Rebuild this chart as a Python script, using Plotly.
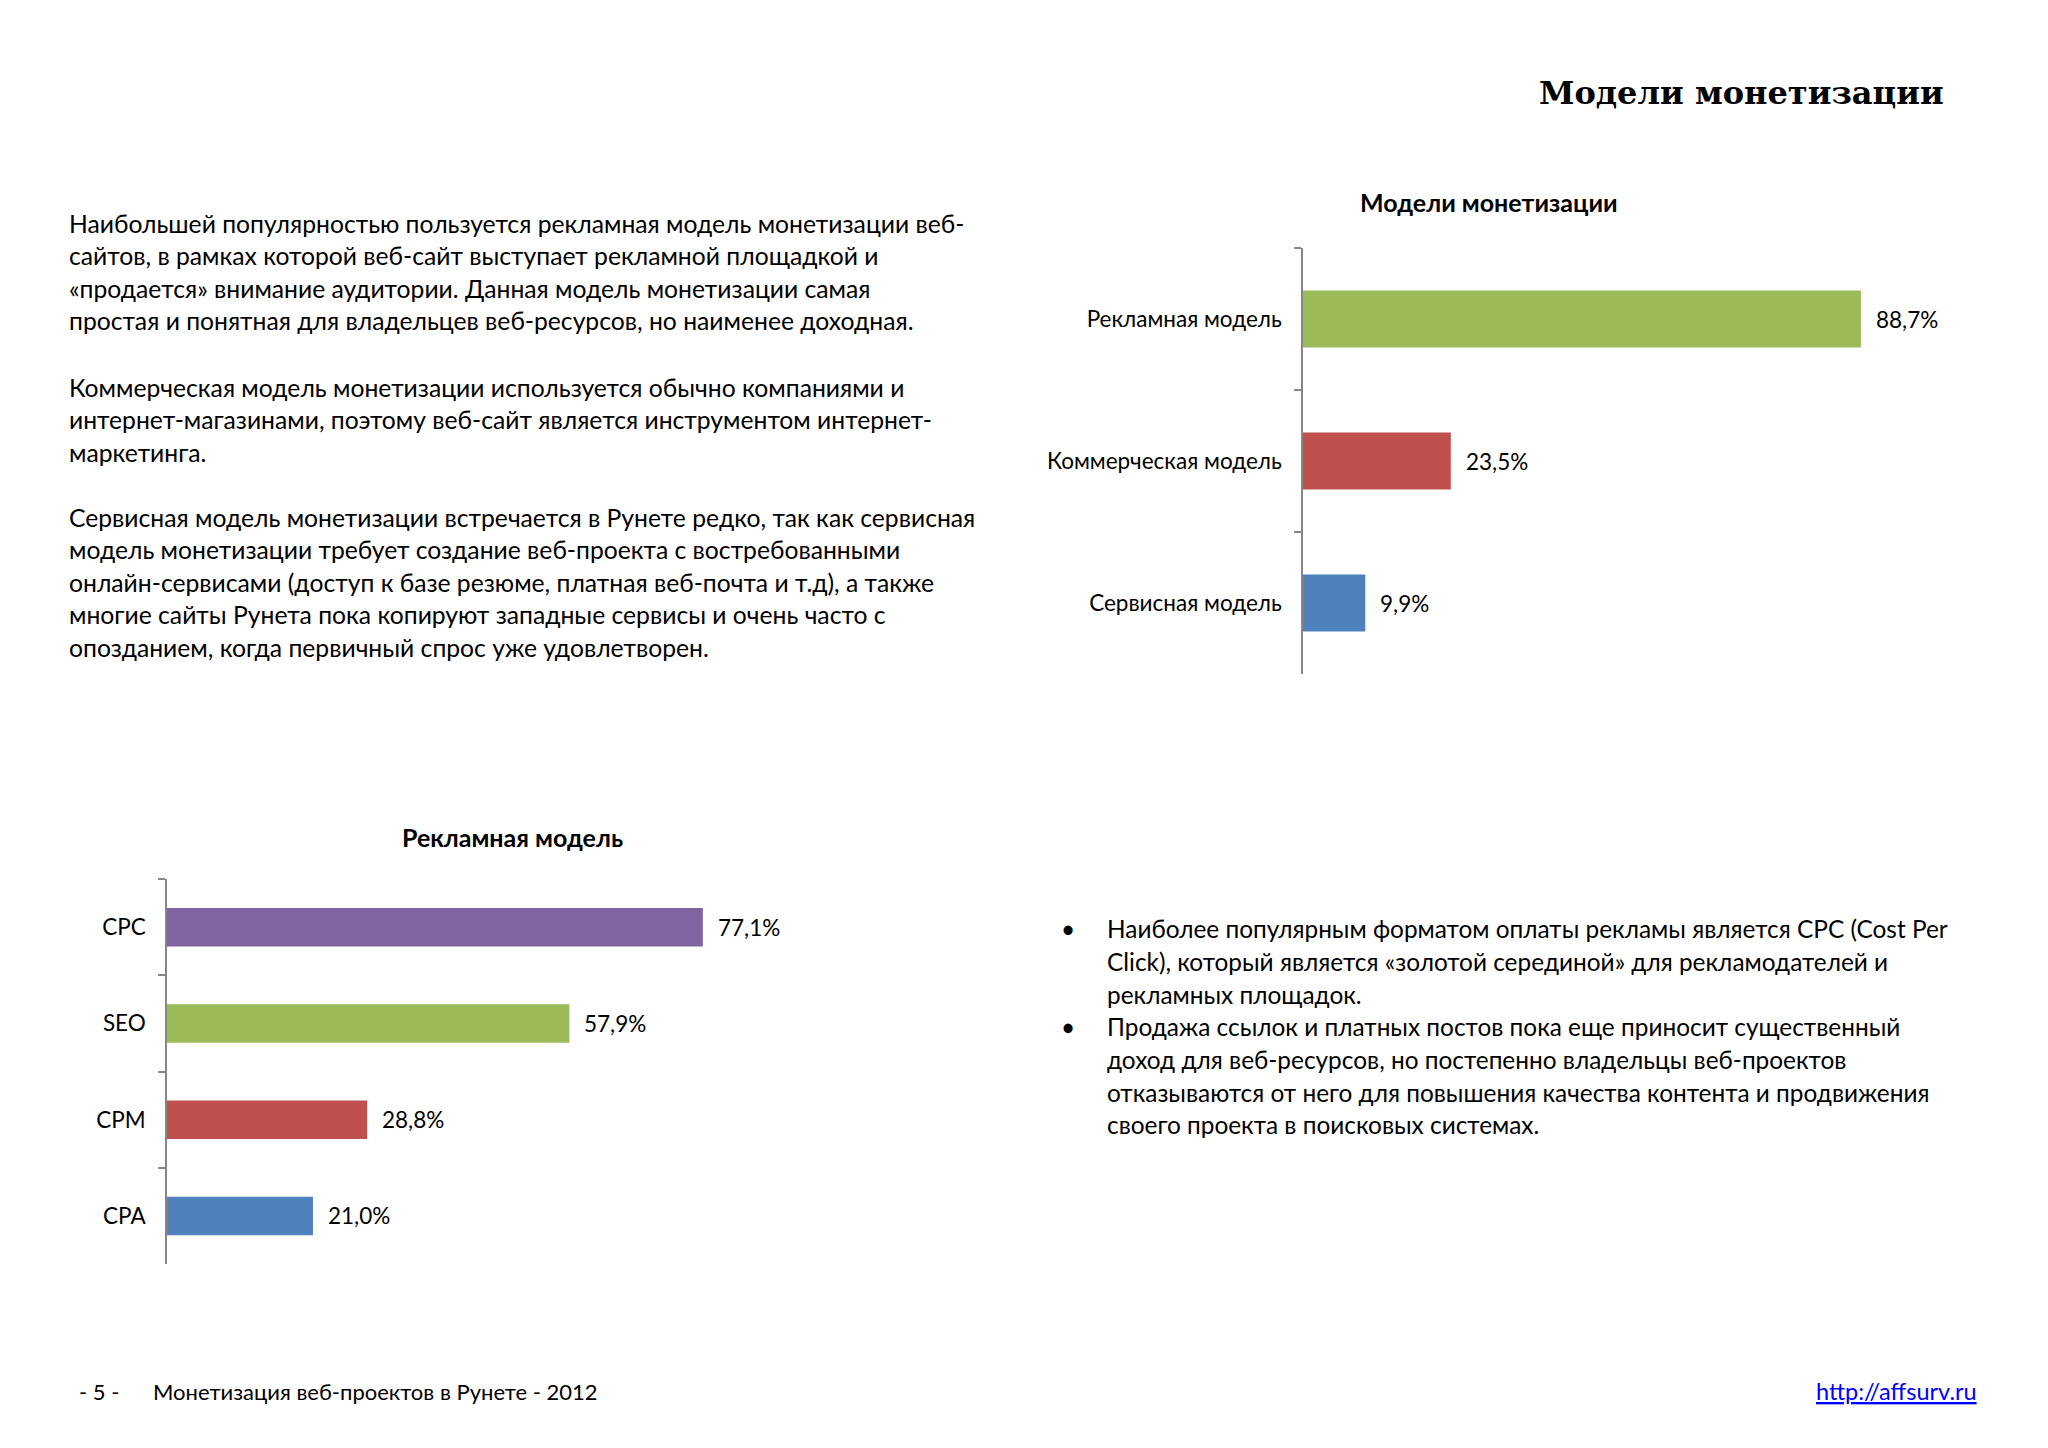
import plotly.graph_objects as go

# ---------------- data ----------------
top_categories = ["Рекламная модель", "Коммерческая модель", "Сервисная модель"]
top_values = [88.7, 23.5, 9.9]
top_colors = ["#9BBB59", "#C0504D", "#4F81BD"]

ad_categories = ["CPC", "SEO", "CPM", "CPA"]
ad_values = [77.1, 57.9, 28.8, 21.0]
ad_colors = ["#8064A2", "#9BBB59", "#C0504D", "#4F81BD"]

page_title = "Модели монетизации"
top_chart_title = "Модели монетизации"
ad_chart_title = "Рекламная модель"

body_paragraphs = [
    ["Наибольшей популярностью пользуется рекламная модель монетизации веб-",
     "сайтов, в рамках которой веб-сайт выступает рекламной площадкой и",
     "«продается» внимание аудитории. Данная модель монетизации самая",
     "простая и понятная для владельцев веб-ресурсов, но наименее доходная."],
    ["Коммерческая модель монетизации используется обычно компаниями и",
     "интернет-магазинами, поэтому веб-сайт является инструментом интернет-",
     "маркетинга."],
    ["Сервисная модель монетизации встречается в Рунете редко, так как сервисная",
     "модель монетизации требует создание веб-проекта с востребованными",
     "онлайн-сервисами (доступ к базе резюме, платная веб-почта и т.д), а также",
     "многие сайты Рунета пока копируют западные сервисы и очень часто с",
     "опозданием, когда первичный спрос уже удовлетворен."],
]

bullets = [
    ["Наиболее популярным форматом оплаты рекламы является CPC (Cost Per",
     "Click), который является «золотой серединой» для рекламодателей и",
     "рекламных площадок."],
    ["Продажа ссылок и платных постов пока еще приносит существенный",
     "доход для веб-ресурсов, но постепенно владельцы веб-проектов",
     "отказываются от него для повышения качества контента и продвижения",
     "своего проекта в поисковых системах."],
]

footer_page = "- 5 -"
footer_text = "Монетизация веб-проектов в Рунете - 2012"
footer_link = "http://affsurv.ru"

# ---------------- layout helpers ----------------
W, H = 2048, 1448
SANS = "Lato, 'Open Sans', sans-serif"
SERIF = "'DejaVu Serif', 'Liberation Serif', serif"
BODY = 24.7
BULLET = 24.4


def px(x):
    return x / W


def py(y):
    return 1 - y / H


def fmt(v):
    return f"{v:.1f}".replace(".", ",") + "%"


fig = go.Figure()
fig.add_trace(go.Bar(y=top_categories, x=top_values, orientation="h",
                     marker=dict(color=top_colors, line=dict(width=0)),
                     xaxis="x", yaxis="y", hoverinfo="skip"))
fig.add_trace(go.Bar(y=ad_categories, x=ad_values, orientation="h",
                     marker=dict(color=ad_colors, line=dict(width=0)),
                     xaxis="x2", yaxis="y2", hoverinfo="skip"))

axis_common_x = dict(range=[0, 100], showgrid=False, zeroline=False,
                     showticklabels=False, showline=False, ticks="")
axis_common_y = dict(type="category", autorange="reversed", showgrid=False,
                     zeroline=False, showline=True, linecolor="#868686",
                     linewidth=1.5, ticks="outside", ticklen=7,
                     tickcolor="#868686", tickwidth=1.5, tickson="boundaries",
                     ticklabelstandoff=15,
                     tickfont=dict(family=SANS, size=22.5, color="#000000"))

fig.update_layout(
    width=W, height=H, margin=dict(l=0, r=0, t=0, b=0),
    paper_bgcolor="white", plot_bgcolor="white", showlegend=False,
    bargap=0.6, separators=", ",
    xaxis=dict(domain=[px(1303), px(1932)], anchor="y", **axis_common_x),
    yaxis=dict(domain=[py(674), py(248)], anchor="x", **axis_common_y),
    xaxis2=dict(domain=[px(167), px(862)], anchor="y2", **axis_common_x),
    yaxis2=dict(domain=[py(1264), py(879)], anchor="x2", **axis_common_y),
)

ann = []
# data labels
for c, v in zip(top_categories, top_values):
    ann.append(dict(x=v, y=c, xref="x", yref="y", text=fmt(v), showarrow=False,
                    xanchor="left", yanchor="middle", xshift=13,
                    font=dict(family=SANS, size=22.5, color="#000000")))
for c, v in zip(ad_categories, ad_values):
    ann.append(dict(x=v, y=c, xref="x2", yref="y2", text=fmt(v), showarrow=False,
                    xanchor="left", yanchor="middle", xshift=13,
                    font=dict(family=SANS, size=22.5, color="#000000")))

# titles
ann.append(dict(x=px(1946), y=py(93), xref="paper", yref="paper", text=f"<b>{page_title}</b>",
                showarrow=False, xanchor="right", yanchor="middle",
                font=dict(family=SERIF, size=32, color="#000000")))
ann.append(dict(x=px(1489), y=py(202), xref="paper", yref="paper", text=f"<b>{top_chart_title}</b>",
                showarrow=False, xanchor="center", yanchor="middle",
                font=dict(family=SANS, size=25, color="#000000")))
ann.append(dict(x=px(512), y=py(837), xref="paper", yref="paper", text=f"<b>{ad_chart_title}</b>",
                showarrow=False, xanchor="center", yanchor="middle",
                font=dict(family=SANS, size=25, color="#000000")))

# body text
LH = 32.65
para_starts = [223, 387, 517]
for start, lines in zip(para_starts, body_paragraphs):
    for i, line in enumerate(lines):
        ann.append(dict(x=px(67), y=py(start + i * LH), xref="paper", yref="paper", text=line,
                        showarrow=False, xanchor="left", yanchor="middle",
                        font=dict(family=SANS, size=BODY, color="#000000")))

# bullets
y0 = 929
k = 0
for lines in bullets:
    for i, line in enumerate(lines):
        yy = y0 + k * LH
        if i == 0:
            ann.append(dict(x=px(1068), y=py(yy), xref="paper", yref="paper", text="•",
                            showarrow=False, xanchor="center", yanchor="middle",
                            font=dict(family=SANS, size=BULLET, color="#000000")))
        ann.append(dict(x=px(1105), y=py(yy), xref="paper", yref="paper", text=line,
                        showarrow=False, xanchor="left", yanchor="middle",
                        font=dict(family=SANS, size=BULLET, color="#000000")))
        k += 1

# footer
ann.append(dict(x=px(77), y=py(1391), xref="paper", yref="paper", text=footer_page,
                showarrow=False, xanchor="left", yanchor="middle",
                font=dict(family=SANS, size=22, color="#000000")))
ann.append(dict(x=px(151), y=py(1391), xref="paper", yref="paper", text=footer_text,
                showarrow=False, xanchor="left", yanchor="middle",
                font=dict(family=SANS, size=22, color="#000000")))
ann.append(dict(x=px(1979), y=py(1391), xref="paper", yref="paper", text=f"<u>{footer_link}</u>",
                showarrow=False, xanchor="right", yanchor="middle",
                font=dict(family=SANS, size=23.5, color="#0000FF")))

fig.update_layout(annotations=ann)

fig.write_html("out.html", config={"displayModeBar": False},
               post_script="document.body.style.margin='0';")
